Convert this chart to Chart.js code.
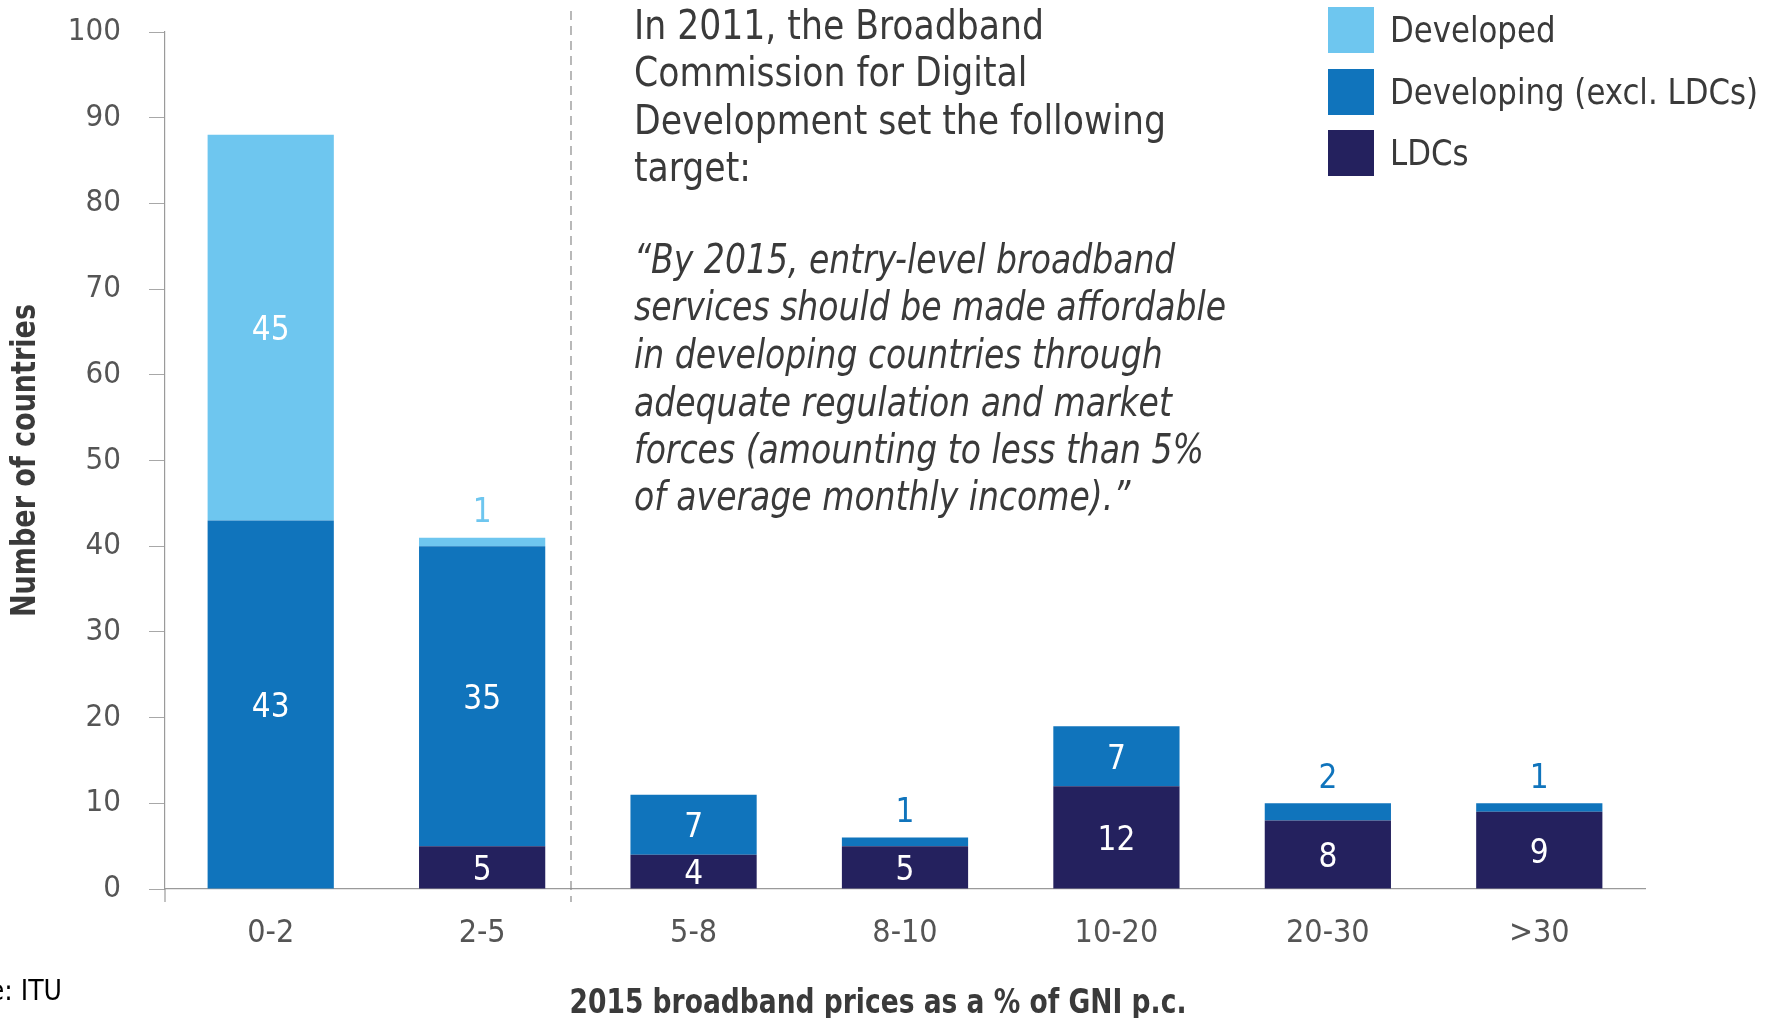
<!DOCTYPE html>
<html>
<head>
<meta charset="utf-8">
<script src="https://cdn.jsdelivr.net/npm/chart.js@4"></script>
<style>
html,body{margin:0;padding:0;background:#fff;}
#wrap{width:1772px;height:1018px;position:relative;}
</style>
</head>
<body>
<div id="wrap"><canvas id="c" width="1772" height="1018"></canvas></div>
<script>
// ---- data ----
const categories = ['0-2', '2-5', '5-8', '8-10', '10-20', '20-30', '>30'];
const ldcs       = [0, 5, 4, 5, 12, 8, 9];
const developing = [43, 35, 7, 1, 7, 2, 1];
const developed  = [45, 1, 0, 0, 0, 0, 0];
const seriesNames = ['LDCs', 'Developing (excl. LDCs)', 'Developed'];
const yTicks = [0, 10, 20, 30, 40, 50, 60, 70, 80, 90, 100];
const yTitle = 'Number of countries';
const xTitle = '2015 broadband prices as a % of GNI p.c.';
const noteLines = ['In 2011, the Broadband', 'Commission for Digital', 'Development set the following', 'target:'];
const quoteLines = ['\u201CBy 2015, entry-level broadband', 'services should be made affordable', 'in developing countries through', 'adequate regulation and market', 'forces (amounting to less than 5%', 'of average monthly income).\u201D'];
const sourceText = 'Source: ITU';

const COLORS = ['#24215E', '#1074BC', '#6EC6EF'];
const FONT = '"Liberation Sans Narrow", "DejaVu Sans Condensed", "Open Sans", sans-serif';
const TEXT = '#3a3a3a';

function drawScaledText(ctx, txt, x, y, scaleX, align) {
  ctx.save();
  ctx.translate(x, y);
  ctx.scale(scaleX, 1);
  ctx.textAlign = align || 'left';
  ctx.fillText(txt, 0, 0);
  ctx.restore();
}

const labelPlugin = {
  id: 'labels',
  afterDatasetsDraw(chart) {
    const ctx = chart.ctx;
    ctx.save();
    ctx.font = '33px ' + FONT;
    ctx.textAlign = 'center';
    ctx.textBaseline = 'middle';
    chart.data.datasets.forEach((ds, di) => {
      const meta = chart.getDatasetMeta(di);
      meta.data.forEach((bar, i) => {
        const v = ds.data[i];
        if (!v) return;
        const top = Math.min(bar.y, bar.base);
        const bot = Math.max(bar.y, bar.base);
        if (v >= 3) {
          ctx.fillStyle = '#ffffff';
          ctx.fillText(String(v), bar.x, (top + bot) / 2 + 4);
        } else {
          let stackTop = top;
          chart.data.datasets.forEach((d2, dj) => {
            const b2 = chart.getDatasetMeta(dj).data[i];
            if (d2.data[i]) stackTop = Math.min(stackTop, b2.y);
          });
          ctx.fillStyle = ds.backgroundColor;
          ctx.fillText(String(v), bar.x, stackTop - 24);
        }
      });
    });
    ctx.restore();
  },
  afterDraw(chart) {
    const ctx = chart.ctx;
    const xs = chart.scales.x, ys = chart.scales.y;
    ctx.save();
    // y axis extension below x axis
    ctx.strokeStyle = '#9a9a9a';
    ctx.lineWidth = 1.2;
    ctx.beginPath();
    ctx.moveTo(xs.left, ys.bottom);
    ctx.lineTo(xs.left, ys.bottom + 13);
    ctx.stroke();
    // dashed separator (5% target) between 2-5 and 5-8
    const sepX = xs.left + 406;
    ctx.setLineDash([9, 6]);
    ctx.strokeStyle = '#8a8a8a';
    ctx.beginPath();
    ctx.moveTo(sepX, 11);
    ctx.lineTo(sepX, ys.bottom + 13);
    ctx.stroke();
    ctx.setLineDash([]);

    // y title
    ctx.fillStyle = TEXT;
    ctx.font = 'bold 34px ' + FONT;
    ctx.textBaseline = 'middle';
    ctx.save();
    ctx.translate(26, (ys.top + ys.bottom) / 2);
    ctx.rotate(-Math.PI / 2);
    let w = ctx.measureText(yTitle).width;
    ctx.scale(313 / w, 1);
    ctx.textAlign = 'center';
    ctx.fillText(yTitle, 0, 0);
    ctx.restore();

    // x title
    ctx.font = 'bold 34px ' + FONT;
    w = ctx.measureText(xTitle).width;
    drawScaledText(ctx, xTitle, 878, 1004, 617 / w, 'center');

    // source
    ctx.fillStyle = '#000';
    ctx.font = '28px ' + FONT;
    ctx.textAlign = 'right';
    ctx.fillText(sourceText, 62, 993);

    // annotation
    ctx.fillStyle = TEXT;
    ctx.font = '40px ' + FONT;
    w = ctx.measureText(noteLines[0]).width;
    let sx = 410 / w;
    const noteY = [29, 76, 124, 171];
    noteLines.forEach((t, k) => drawScaledText(ctx, t, 634, noteY[k], sx, 'left'));
    ctx.font = 'italic 40px ' + FONT;
    w = ctx.measureText(quoteLines[1]).width;
    sx = 592 / w;
    const quoteY = [263, 310, 358, 406, 453, 500];
    quoteLines.forEach((t, k) => drawScaledText(ctx, t, 634, quoteY[k], sx, 'left'));

    // legend
    const legendOrder = [2, 1, 0];
    const legY = [30, 92, 153];
    ctx.font = '36px ' + FONT;
    w = ctx.measureText(seriesNames[1]).width;
    sx = 368 / w;
    legendOrder.forEach((di, k) => {
      const ds = chart.data.datasets[di];
      ctx.fillStyle = ds.backgroundColor;
      ctx.fillRect(1328, legY[k] - 23, 46, 46);
      ctx.fillStyle = TEXT;
      drawScaledText(ctx, ds.label, 1390, legY[k] + 3, sx, 'left');
    });
    ctx.restore();
  }
};

new Chart(document.getElementById('c'), {
  type: 'bar',
  data: {
    labels: categories,
    datasets: [
      { label: seriesNames[0], data: ldcs, backgroundColor: COLORS[0] },
      { label: seriesNames[1], data: developing, backgroundColor: COLORS[1] },
      { label: seriesNames[2], data: developed, backgroundColor: COLORS[2] }
    ]
  },
  options: {
    responsive: false,
    animation: false,
    layout: { padding: { top: 32, right: 127, left: 0, bottom: 0 } },
    datasets: { bar: { barPercentage: 0.597, categoryPercentage: 1.0, borderWidth: 0 } },
    plugins: { legend: { display: false }, tooltip: { enabled: false }, title: { display: false } },
    scales: {
      x: {
        stacked: true,
        grid: { display: false, drawTicks: false },
        border: { display: true, color: '#9a9a9a', width: 1.2 },
        ticks: { color: '#555', font: { family: FONT, size: 32 }, padding: 25 },
        afterFit(s) { s.height = 129; s.paddingLeft = 0; s.paddingRight = 0; }
      },
      y: {
        stacked: true,
        min: 0, max: 100,
        afterBuildTicks(s) { s.ticks = yTicks.map(v => ({ value: v })); },
        grid: { drawOnChartArea: false, drawTicks: true, tickLength: 16, color: '#a8a8a8', lineWidth: 1 },
        border: { display: true, color: '#9a9a9a', width: 1.2 },
        ticks: { color: '#555', font: { family: FONT, size: 31 }, padding: 28 },
        afterFit(s) { s.width = 165; s.paddingTop = 0; s.paddingBottom = 0; }
      }
    }
  },
  plugins: [labelPlugin]
});
</script>
</body>
</html>
